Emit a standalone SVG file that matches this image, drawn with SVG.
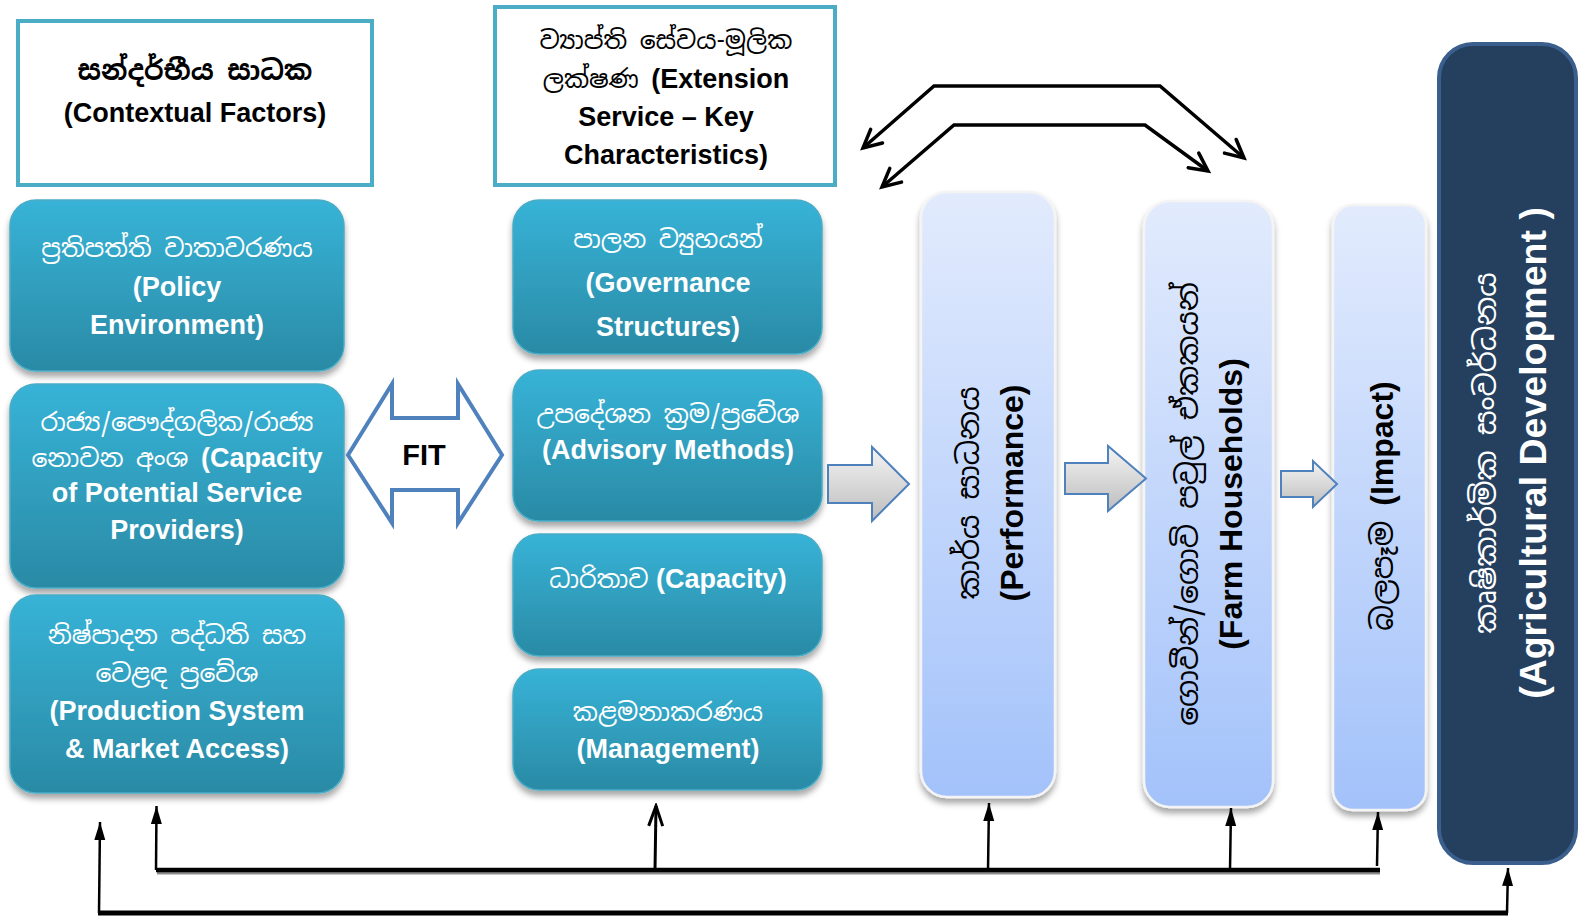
<svg xmlns="http://www.w3.org/2000/svg" width="1579" height="916" viewBox="0 0 1579 916">
<defs>
  <linearGradient id="teal" x1="0" y1="0" x2="0" y2="1">
    <stop offset="0" stop-color="#37B3D7"/>
    <stop offset="1" stop-color="#2A8AA5"/>
  </linearGradient>
  <linearGradient id="lblue" x1="0" y1="0" x2="0" y2="1">
    <stop offset="0" stop-color="#E2EBFD"/>
    <stop offset="1" stop-color="#A3C2FA"/>
  </linearGradient>
  <linearGradient id="grey" x1="0" y1="0" x2="0" y2="1">
    <stop offset="0" stop-color="#F4F4F4"/>
    <stop offset="1" stop-color="#BDBDBD"/>
  </linearGradient>
  <filter id="shadow" x="-20%" y="-20%" width="140%" height="140%">
    <feDropShadow dx="0" dy="5" stdDeviation="3" flood-color="#000" flood-opacity="0.35"/>
  </filter>
  <marker id="tri" markerUnits="userSpaceOnUse" markerWidth="20" markerHeight="12" refX="18" refY="6" orient="auto">
    <path d="M0,0.5 L18,6 L0,11.5 z" fill="#000"/>
  </marker>
  <marker id="openH" markerUnits="userSpaceOnUse" markerWidth="24" markerHeight="24" refX="20" refY="12" orient="auto-start-reverse">
    <path d="M2,3 L20,12 L2,21" fill="none" stroke="#000" stroke-width="3.5" stroke-linecap="round" stroke-linejoin="miter"/>
  </marker>
  <marker id="openN" markerUnits="userSpaceOnUse" markerWidth="24" markerHeight="20" refX="21" refY="10" orient="auto">
    <path d="M1,3 L21,10 L1,17" fill="none" stroke="#000" stroke-width="3"/>
  </marker>
  <style>
    .hdr { fill:#fff; stroke:#4BACC6; stroke-width:4; }
    .tbox { fill:url(#teal); stroke:#4BACC6; stroke-width:1.5; filter:url(#shadow); }
    .vbox { fill:url(#lblue); stroke:#F4F4F4; stroke-width:2.5; filter:url(#shadow); }
    .dbox { fill:#253F5F; stroke:#3A5F8D; stroke-width:4; }
    .barrow { fill:url(#grey); stroke:#4F81BD; stroke-width:2; }
    text { font-family:"Liberation Sans", Arial, sans-serif; text-anchor:middle; }
    .en { font-weight:bold; font-size:27px; }
    .si { font-family:"Noto Sans Sinhala","Iskoola Pota","Liberation Sans",sans-serif; font-weight:normal; font-size:25px; }
    .sib { font-family:"Noto Sans Sinhala","Iskoola Pota","Liberation Sans",sans-serif; font-weight:bold; font-size:27px; }
    .w { fill:#fff; }
    .k { fill:#000; }
    .ven { font-weight:bold; font-size:32px; }
    .vsi { font-family:"Noto Sans Sinhala","Iskoola Pota","Liberation Sans",sans-serif; font-weight:normal; font-size:30px; }
    .line { stroke:#000; fill:none; }
  </style>
</defs>
<rect width="1579" height="916" fill="#fff"/>

<g id="contextual-factors">
  <rect class="hdr" x="18" y="21" width="354" height="164"/>
  <text class="sib k" x="195" y="80">සන්දර්භීය සාධක</text>
  <text class="en k" x="195" y="122" font-size="27.5">(Contextual Factors)</text>
</g>

<g id="extension-service">
  <rect class="hdr" x="495" y="7" width="340" height="178"/>
  <text class="si k" x="666" y="49" font-size="27">ව්&#8205;යාප්ති සේවය-මූලික</text>
  <text class="en k" x="666" y="88"><tspan class="si" font-size="27">ලක්ෂණ </tspan> (Extension</text>
  <text class="en k" x="666" y="126">Service – Key</text>
  <text class="en k" x="666" y="164">Characteristics)</text>
</g>

<g id="policy-environment">
  <rect class="tbox" x="10" y="200" width="334" height="171" rx="26"/>
  <text class="si w" x="177" y="257">ප්&#8205;රතිපත්ති  වාතාවරණය</text>
  <text class="en w" x="177" y="296">(Policy</text>
  <text class="en w" x="177" y="334">Environment)</text>
</g>

<g id="service-providers">
  <rect class="tbox" x="10" y="384" width="334" height="204" rx="26"/>
  <text class="si w" x="177" y="431">රාජ්&#8205;ය/පෞද්ගලික/රාජ්&#8205;ය</text>
  <text class="en w" x="177" y="467" font-size="25"><tspan class="si">නොවන අංශ </tspan> (Capacity</text>
  <text class="en w" x="177" y="502" font-size="25">of Potential Service</text>
  <text class="en w" x="177" y="539" font-size="25">Providers)</text>
</g>

<g id="production-system">
  <rect class="tbox" x="10" y="595" width="334" height="198" rx="26"/>
  <text class="si w" x="177" y="644">නිෂ්පාදන පද්ධති  සහ</text>
  <text class="si w" x="177" y="682">වෙළඳ ප්&#8205;රවේශ</text>
  <text class="en w" x="177" y="720">(Production System</text>
  <text class="en w" x="177" y="758">&amp; Market Access)</text>
</g>

<g id="fit">
  <polygon points="348,455 392,384 392,418 458,418 458,384 502,455 458,523 458,490 392,490 392,523" fill="#fff" stroke="#4F81BD" stroke-width="4" stroke-linejoin="miter"/>
  <text x="424" y="465" font-weight="bold" font-size="29" fill="#000">FIT</text>
</g>

<g id="governance-structures">
  <rect class="tbox" x="513" y="200" width="309" height="154" rx="26"/>
  <text class="si w" x="668" y="248">පාලන ව්&#8205;යුහයන්</text>
  <text class="en w" x="668" y="292">(Governance</text>
  <text class="en w" x="668" y="336">Structures)</text>
</g>

<g id="advisory-methods">
  <rect class="tbox" x="513" y="370" width="309" height="151" rx="26"/>
  <text class="si w" x="668" y="423">උපදේශන ක්&#8205;රම/ප්&#8205;රවේශ</text>
  <text class="en w" x="668" y="459" font-size="25">(Advisory Methods)</text>
</g>

<g id="capacity">
  <rect class="tbox" x="513" y="534" width="309" height="122" rx="26"/>
  <text class="en w" x="668" y="588"><tspan class="si">ධාරිතාව</tspan> (Capacity)</text>
</g>

<g id="management">
  <rect class="tbox" x="513" y="669" width="309" height="121" rx="26"/>
  <text class="si w" x="668" y="721">කළමනාකරණය</text>
  <text class="en w" x="668" y="758">(Management)</text>
</g>

<g id="performance">
  <rect class="vbox" x="921" y="192" width="134" height="605" rx="26"/>
  <g transform="translate(969,493) rotate(-90)"><text class="vsi k" x="0" y="10">කාර්ය සාධනය</text></g>
  <g transform="translate(1012,493) rotate(-90)"><text class="ven k" x="0" y="11">(Performance)</text></g>
</g>

<g id="farm-households">
  <rect class="vbox" x="1144" y="201" width="129" height="606" rx="26"/>
  <g transform="translate(1188,504) rotate(-90)"><text class="vsi k" x="0" y="10">ගොවීන්/ගොවි පවුල් ඒකකයන්</text></g>
  <g transform="translate(1231,504) rotate(-90)"><text class="ven k" x="0" y="11">(Farm Households)</text></g>
</g>

<g id="impact">
  <rect class="vbox" x="1333" y="205" width="93" height="605" rx="20"/>
  <g transform="translate(1382,506) rotate(-90)"><text class="ven k" x="0" y="11"><tspan class="vsi">බලපෑම </tspan> (Impact)</text></g>
</g>

<g id="agricultural-development">
  <rect class="dbox" x="1439" y="44" width="137" height="819" rx="34"/>
  <g transform="translate(1485,453) rotate(-90)"><text class="vsi w" x="0" y="11" font-size="33">කෘෂිකාර්මික සංවර්ධනය</text></g>
  <g transform="translate(1533,453) rotate(-90)"><text class="w" x="0" y="13" font-weight="bold" font-size="37.5">(Agricultural Development )</text></g>
</g>

<g id="block-arrows">
  <polygon class="barrow" points="828,465 872,465 872,447 909,484 872,521 872,503 828,503"/>
  <polygon class="barrow" points="1065,463 1108,463 1108,446 1146,478.5 1108,511 1108,494 1065,494"/>
  <polygon class="barrow" points="1281,471 1313,471 1313,461 1337,484 1313,507 1313,497 1281,497"/>
</g>

<g id="connectors">
  <polyline class="line" points="863,148 934,86 1160,86 1244,158" stroke-width="3.5" marker-start="url(#openH)" marker-end="url(#openH)"/>
  <polyline class="line" points="882,187 954,125 1145,125 1208,171" stroke-width="3.5" marker-start="url(#openH)" marker-end="url(#openH)"/>
  <line x1="157" y1="873" x2="1380" y2="873" stroke="#8C8C8C" stroke-width="3"/>
  <line class="line" x1="156" y1="870" x2="1380" y2="870" stroke-width="4.5"/>
  <line class="line" x1="98" y1="913" x2="1508" y2="913" stroke-width="5"/>
  <line class="line" x1="99" y1="913" x2="100" y2="822" stroke-width="2.5" marker-end="url(#tri)"/>
  <line class="line" x1="156" y1="870" x2="156.5" y2="806" stroke-width="2.5" marker-end="url(#tri)"/>
  <line class="line" x1="655" y1="870" x2="656" y2="806" stroke-width="3" marker-end="url(#openN)"/>
  <line class="line" x1="988" y1="870" x2="989" y2="803" stroke-width="2.5" marker-end="url(#tri)"/>
  <line class="line" x1="1230" y1="870" x2="1231" y2="808" stroke-width="2.5" marker-end="url(#tri)"/>
  <line class="line" x1="1377" y1="866" x2="1378" y2="812" stroke-width="2.5" marker-end="url(#tri)"/>
  <line class="line" x1="1507" y1="913" x2="1508" y2="868" stroke-width="2.5" marker-end="url(#tri)"/>
</g>
</svg>
